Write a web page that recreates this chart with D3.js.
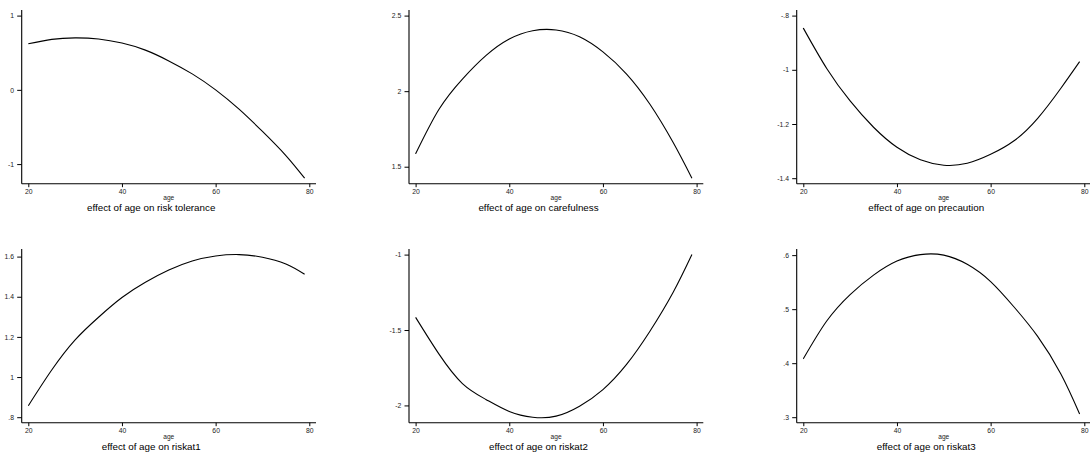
<!DOCTYPE html>
<html>
<head>
<meta charset="utf-8">
<script src="https://cdn.jsdelivr.net/npm/d3@7"></script>
<style>
  body { margin: 0; background: #fff; }
  svg { display: block; font-family: "Liberation Sans", Arial, sans-serif; }
</style>
</head>
<body>
<svg></svg>
<script>
const width = 1090;
const height = 458;

const ages = [20, 25, 30, 35, 40, 45, 50, 55, 60, 65, 70, 75, 79];

const riskTolerance = [0.62, 0.68, 0.70, 0.685, 0.63, 0.535, 0.39, 0.215, 0.00, -0.26, -0.56, -0.885, -1.19];
const carefulness   = [1.585, 1.88, 2.08, 2.235, 2.345, 2.40, 2.405, 2.36, 2.26, 2.115, 1.915, 1.66, 1.424];
const precaution    = [-0.846, -0.995, -1.115, -1.212, -1.286, -1.332, -1.352, -1.345, -1.312, -1.262, -1.18, -1.068, -0.97];
const riskat1       = [0.857, 1.035, 1.185, 1.298, 1.396, 1.472, 1.533, 1.578, 1.603, 1.61, 1.597, 1.563, 1.512];
const riskat2       = [-1.416, -1.66, -1.855, -1.96, -2.04, -2.078, -2.071, -2.005, -1.895, -1.73, -1.51, -1.25, -1.0];
const riskat3       = [0.408, 0.478, 0.527, 0.563, 0.589, 0.601, 0.600, 0.583, 0.551, 0.504, 0.450, 0.380, 0.306];

const titles = [
    'effect of age on risk tolerance',
    'effect of age on carefulness',
    'effect of age on precaution',
    'effect of age on riskat1',
    'effect of age on riskat2',
    'effect of age on riskat3'
];

const xTicks = [20, 40, 60, 80];
const yTicks = [
    [-1, 0, 1],
    [1.5, 2, 2.5],
    [-1.4, -1.2, -1, -0.8],
    [0.8, 1, 1.2, 1.4, 1.6],
    [-2, -1.5, -1],
    [0.3, 0.4, 0.5, 0.6]
];

const series = [riskTolerance, carefulness, precaution, riskat1, riskat2, riskat3];

const svg = d3.select('svg')
    .attr('width', width)
    .attr('height', height);

// panel placement (left edge of y axis, top of plot region)
const colX = [21.7, 409, 796.7];
const rowY = [10, 249];
const plotW = 294.3;
const plotH = 173.7;

// stata style numbers: .8, -.8, 1.5
function stataFmt(v) {
    let s = String(+v.toFixed(2));
    return s.replace(/^(-?)0\./, '$1.');
}

series.forEach((values, i) => {
    const left = colX[i % 3];
    const top = rowY[Math.floor(i / 3)];

    const g = svg.append('g')
        .attr('transform', `translate(${left},${top})`);

    const x = d3.scaleLinear()
        .domain(d3.extent(ages.concat(xTicks)))
        .range([6.6, 287.6]);

    const y = d3.scaleLinear()
        .domain(d3.extent(values.concat(yTicks[i])))
        .range([168.2, 5.6]);

    const yAxis = g.append('g')
        .call(d3.axisLeft(y)
            .tickValues(yTicks[i])
            .tickSize(4.5)
            .tickPadding(3.2)
            .tickFormat(stataFmt));

    const xAxis = g.append('g')
        .attr('transform', `translate(0,${plotH})`)
        .call(d3.axisBottom(x)
            .tickValues(xTicks)
            .tickSize(3.5)
            .tickPadding(1.6)
            .tickFormat(d3.format('d')));

    [yAxis, xAxis].forEach(a => {
        a.select('.domain').remove();
        a.selectAll('.tick line').attr('stroke', '#000').attr('stroke-width', 1);
        a.selectAll('.tick text')
            .attr('fill', '#222')
            .style('font-size', '6.8px')
            .style('font-family', '"Liberation Sans", Arial, sans-serif');
    });

    g.append('line')
        .attr('x1', 0).attr('x2', 0)
        .attr('y1', 0).attr('y2', plotH)
        .attr('stroke', '#000')
        .attr('stroke-width', 1.1);

    g.append('line')
        .attr('x1', 0).attr('x2', plotW)
        .attr('y1', plotH).attr('y2', plotH)
        .attr('stroke', '#000')
        .attr('stroke-width', 1.1);

    const line = d3.line()
        .x((d, j) => x(ages[j]))
        .y(d => y(d))
        .curve(d3.curveNatural);

    g.append('path')
        .datum(values)
        .attr('d', line)
        .attr('fill', 'none')
        .attr('stroke', '#000')
        .attr('stroke-width', 1.1);

    g.append('text')
        .attr('x', (x(20) + x(80)) / 2)
        .attr('y', plotH + 16.3)
        .attr('text-anchor', 'middle')
        .attr('fill', '#222')
        .style('font-size', '6.6px')
        .text('age');

    g.append('text')
        .attr('x', 129.5)
        .attr('y', plotH + 26.8)
        .attr('text-anchor', 'middle')
        .attr('fill', '#000')
        .style('font-size', '9.8px')
        .text(titles[i]);
});
</script>
</body>
</html>
